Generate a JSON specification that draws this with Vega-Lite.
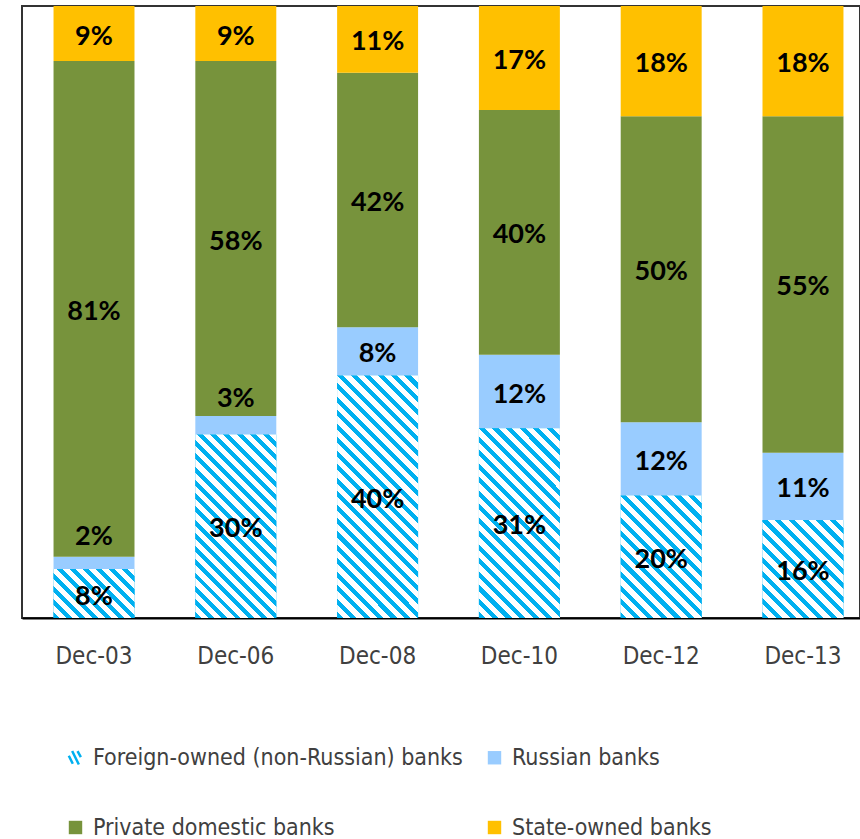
{
"$schema": "https://vega.github.io/schema/vega-lite/v6.json",
"width": 838, "height": 612,
"autosize": {"type": "none"},
"padding": {"left": 22, "top": 6, "right": 0, "bottom": 221},
"background": "white",
"config": {"view": {"stroke": "#333", "strokeWidth": 2}},
"data": {"values": [
{"period":"Dec-03","type":"Foreign-owned (non-Russian) banks","rank":1,"value":0.08},
{"period":"Dec-03","type":"Russian banks","rank":2,"value":0.02},
{"period":"Dec-03","type":"Private domestic banks","rank":3,"value":0.81},
{"period":"Dec-03","type":"State-owned banks","rank":4,"value":0.09},
{"period":"Dec-06","type":"Foreign-owned (non-Russian) banks","rank":1,"value":0.30},
{"period":"Dec-06","type":"Russian banks","rank":2,"value":0.03},
{"period":"Dec-06","type":"Private domestic banks","rank":3,"value":0.58},
{"period":"Dec-06","type":"State-owned banks","rank":4,"value":0.09},
{"period":"Dec-08","type":"Foreign-owned (non-Russian) banks","rank":1,"value":0.40},
{"period":"Dec-08","type":"Russian banks","rank":2,"value":0.08},
{"period":"Dec-08","type":"Private domestic banks","rank":3,"value":0.42},
{"period":"Dec-08","type":"State-owned banks","rank":4,"value":0.11},
{"period":"Dec-10","type":"Foreign-owned (non-Russian) banks","rank":1,"value":0.31},
{"period":"Dec-10","type":"Russian banks","rank":2,"value":0.12},
{"period":"Dec-10","type":"Private domestic banks","rank":3,"value":0.40},
{"period":"Dec-10","type":"State-owned banks","rank":4,"value":0.17},
{"period":"Dec-12","type":"Foreign-owned (non-Russian) banks","rank":1,"value":0.20},
{"period":"Dec-12","type":"Russian banks","rank":2,"value":0.12},
{"period":"Dec-12","type":"Private domestic banks","rank":3,"value":0.50},
{"period":"Dec-12","type":"State-owned banks","rank":4,"value":0.18},
{"period":"Dec-13","type":"Foreign-owned (non-Russian) banks","rank":1,"value":0.16},
{"period":"Dec-13","type":"Russian banks","rank":2,"value":0.11},
{"period":"Dec-13","type":"Private domestic banks","rank":3,"value":0.55},
{"period":"Dec-13","type":"State-owned banks","rank":4,"value":0.18}
]},
"transform": [
{"stack": "value", "groupby": ["period"], "sort": [{"field": "rank", "order": "ascending"}], "offset": "normalize", "as": ["y0", "y1"]},
{"calculate": "(datum.y0 + datum.y1) / 2", "as": "ymid"}
],
"encoding": {
"x": {"field": "period", "type": "nominal", "sort": null,
 "scale": {"paddingInner": 0.429, "paddingOuter": 0.1695, "align": 0.656},
 "axis": {"title": null, "ticks": false, "labelAngle": 0, "labelPadding": 26, "labelFont": "Liberation Sans Narrow, DejaVu Sans Condensed, Roboto Condensed, Roboto, sans-serif", "labelFontSize": 24, "labelColor": "#404040", "domainColor": "#000", "domainWidth": 2}}
},
"layer": [
{"mark": {"type": "bar"},
 "encoding": {
  "y": {"field": "y0", "type": "quantitative", "scale": {"domain": [0, 1], "nice": false}, "axis": null},
  "y2": {"field": "y1"},
  "color": {"field": "type", "type": "nominal",
   "scale": {"domain": ["Foreign-owned (non-Russian) banks", "Russian banks", "Private domestic banks", "State-owned banks"], "range": ["#00B0F0", "#99CCFF", "#77933C", "#FFC000"]},
   "legend": {"title": null, "orient": "none", "direction": "horizontal", "legendX": 42, "legendY": 740, "columns": 2, "columnPadding": 19, "rowPadding": 45, "symbolSize": 180, "symbolType": "square", "labelFont": "Liberation Sans Narrow, DejaVu Sans Condensed, Roboto Condensed, Roboto, sans-serif", "labelFontSize": 23, "labelColor": "#404040", "labelLimit": 0, "labelOffset": 6,
    "encode": {"symbols": {"update": {
     "shape": {"signal": "datum.value === 'Foreign-owned (non-Russian) banks' ? 'M-1,-0.3L-0.4,0.9M-0.5,-1L0.5,1M0.3,-1L0.8,-0.1' : 'square'"},
     "stroke": [{"test": "datum.value === 'Foreign-owned (non-Russian) banks'", "value": "#00B0F0"}, {"value": "transparent"}],
     "strokeWidth": {"value": 2.5},
     "fill": [{"test": "datum.value === 'Foreign-owned (non-Russian) banks'", "value": "transparent"}, {"scale": "color", "field": "value"}]
    }}}}
  }
 }},
{"transform": [{"filter": "datum.rank === 1 && datum.period === 'Dec-03'"}],
 "mark": {"type": "bar", "color": {"gradient": "linear", "x1": 0, "y1": 1, "x2": 1.175, "y2": 0.2892, "stops": [
{"offset":0,"color":"#00B0F0"},{"offset":0.045,"color":"#00B0F0"},{"offset":0.045,"color":"#FFFFFF"},{"offset":0.1,"color":"#FFFFFF"},
{"offset":0.1,"color":"#00B0F0"},{"offset":0.145,"color":"#00B0F0"},{"offset":0.145,"color":"#FFFFFF"},{"offset":0.2,"color":"#FFFFFF"},
{"offset":0.2,"color":"#00B0F0"},{"offset":0.245,"color":"#00B0F0"},{"offset":0.245,"color":"#FFFFFF"},{"offset":0.3,"color":"#FFFFFF"},
{"offset":0.3,"color":"#00B0F0"},{"offset":0.345,"color":"#00B0F0"},{"offset":0.345,"color":"#FFFFFF"},{"offset":0.4,"color":"#FFFFFF"},
{"offset":0.4,"color":"#00B0F0"},{"offset":0.445,"color":"#00B0F0"},{"offset":0.445,"color":"#FFFFFF"},{"offset":0.5,"color":"#FFFFFF"},
{"offset":0.5,"color":"#00B0F0"},{"offset":0.545,"color":"#00B0F0"},{"offset":0.545,"color":"#FFFFFF"},{"offset":0.6,"color":"#FFFFFF"},
{"offset":0.6,"color":"#00B0F0"},{"offset":0.645,"color":"#00B0F0"},{"offset":0.645,"color":"#FFFFFF"},{"offset":0.7,"color":"#FFFFFF"},
{"offset":0.7,"color":"#00B0F0"},{"offset":0.745,"color":"#00B0F0"},{"offset":0.745,"color":"#FFFFFF"},{"offset":0.8,"color":"#FFFFFF"},
{"offset":0.8,"color":"#00B0F0"},{"offset":0.845,"color":"#00B0F0"},{"offset":0.845,"color":"#FFFFFF"},{"offset":0.9,"color":"#FFFFFF"},
{"offset":0.9,"color":"#00B0F0"},{"offset":0.945,"color":"#00B0F0"},{"offset":0.945,"color":"#FFFFFF"},{"offset":1,"color":"#FFFFFF"}
 ]}},
 "encoding": {"y": {"field": "y0", "type": "quantitative", "axis": null}, "y2": {"field": "y1"}}},
{"transform": [{"filter": "datum.rank === 1 && datum.period === 'Dec-06'"}],
 "mark": {"type": "bar", "color": {"gradient": "linear", "x1": 0, "y1": 1, "x2": 0.5322, "y2": -0.2064, "stops": [
{"offset":0,"color":"#00B0F0"},{"offset":0.0225,"color":"#00B0F0"},{"offset":0.0225,"color":"#FFFFFF"},{"offset":0.05,"color":"#FFFFFF"},
{"offset":0.05,"color":"#00B0F0"},{"offset":0.0725,"color":"#00B0F0"},{"offset":0.0725,"color":"#FFFFFF"},{"offset":0.1,"color":"#FFFFFF"},
{"offset":0.1,"color":"#00B0F0"},{"offset":0.1225,"color":"#00B0F0"},{"offset":0.1225,"color":"#FFFFFF"},{"offset":0.15,"color":"#FFFFFF"},
{"offset":0.15,"color":"#00B0F0"},{"offset":0.1725,"color":"#00B0F0"},{"offset":0.1725,"color":"#FFFFFF"},{"offset":0.2,"color":"#FFFFFF"},
{"offset":0.2,"color":"#00B0F0"},{"offset":0.2225,"color":"#00B0F0"},{"offset":0.2225,"color":"#FFFFFF"},{"offset":0.25,"color":"#FFFFFF"},
{"offset":0.25,"color":"#00B0F0"},{"offset":0.2725,"color":"#00B0F0"},{"offset":0.2725,"color":"#FFFFFF"},{"offset":0.3,"color":"#FFFFFF"},
{"offset":0.3,"color":"#00B0F0"},{"offset":0.3225,"color":"#00B0F0"},{"offset":0.3225,"color":"#FFFFFF"},{"offset":0.35,"color":"#FFFFFF"},
{"offset":0.35,"color":"#00B0F0"},{"offset":0.3725,"color":"#00B0F0"},{"offset":0.3725,"color":"#FFFFFF"},{"offset":0.4,"color":"#FFFFFF"},
{"offset":0.4,"color":"#00B0F0"},{"offset":0.4225,"color":"#00B0F0"},{"offset":0.4225,"color":"#FFFFFF"},{"offset":0.45,"color":"#FFFFFF"},
{"offset":0.45,"color":"#00B0F0"},{"offset":0.4725,"color":"#00B0F0"},{"offset":0.4725,"color":"#FFFFFF"},{"offset":0.5,"color":"#FFFFFF"},
{"offset":0.5,"color":"#00B0F0"},{"offset":0.5225,"color":"#00B0F0"},{"offset":0.5225,"color":"#FFFFFF"},{"offset":0.55,"color":"#FFFFFF"},
{"offset":0.55,"color":"#00B0F0"},{"offset":0.5725,"color":"#00B0F0"},{"offset":0.5725,"color":"#FFFFFF"},{"offset":0.6,"color":"#FFFFFF"},
{"offset":0.6,"color":"#00B0F0"},{"offset":0.6225,"color":"#00B0F0"},{"offset":0.6225,"color":"#FFFFFF"},{"offset":0.65,"color":"#FFFFFF"},
{"offset":0.65,"color":"#00B0F0"},{"offset":0.6725,"color":"#00B0F0"},{"offset":0.6725,"color":"#FFFFFF"},{"offset":0.7,"color":"#FFFFFF"},
{"offset":0.7,"color":"#00B0F0"},{"offset":0.7225,"color":"#00B0F0"},{"offset":0.7225,"color":"#FFFFFF"},{"offset":0.75,"color":"#FFFFFF"},
{"offset":0.75,"color":"#00B0F0"},{"offset":0.7725,"color":"#00B0F0"},{"offset":0.7725,"color":"#FFFFFF"},{"offset":0.8,"color":"#FFFFFF"},
{"offset":0.8,"color":"#00B0F0"},{"offset":0.8225,"color":"#00B0F0"},{"offset":0.8225,"color":"#FFFFFF"},{"offset":0.85,"color":"#FFFFFF"},
{"offset":0.85,"color":"#00B0F0"},{"offset":0.8725,"color":"#00B0F0"},{"offset":0.8725,"color":"#FFFFFF"},{"offset":0.9,"color":"#FFFFFF"},
{"offset":0.9,"color":"#00B0F0"},{"offset":0.9225,"color":"#00B0F0"},{"offset":0.9225,"color":"#FFFFFF"},{"offset":0.95,"color":"#FFFFFF"},
{"offset":0.95,"color":"#00B0F0"},{"offset":0.9725,"color":"#00B0F0"},{"offset":0.9725,"color":"#FFFFFF"},{"offset":1,"color":"#FFFFFF"}
 ]}},
 "encoding": {"y": {"field": "y0", "type": "quantitative", "axis": null}, "y2": {"field": "y1"}}},
{"transform": [{"filter": "datum.rank === 1 && datum.period === 'Dec-08'"}],
 "mark": {"type": "bar", "color": {"gradient": "linear", "x1": 0, "y1": 1, "x2": 0.401, "y2": -0.2001, "stops": [
{"offset":0,"color":"#00B0F0"},{"offset":0.01875,"color":"#00B0F0"},{"offset":0.01875,"color":"#FFFFFF"},{"offset":0.041667,"color":"#FFFFFF"},
{"offset":0.041667,"color":"#00B0F0"},{"offset":0.060417,"color":"#00B0F0"},{"offset":0.060417,"color":"#FFFFFF"},{"offset":0.083333,"color":"#FFFFFF"},
{"offset":0.083333,"color":"#00B0F0"},{"offset":0.102083,"color":"#00B0F0"},{"offset":0.102083,"color":"#FFFFFF"},{"offset":0.125,"color":"#FFFFFF"},
{"offset":0.125,"color":"#00B0F0"},{"offset":0.14375,"color":"#00B0F0"},{"offset":0.14375,"color":"#FFFFFF"},{"offset":0.166667,"color":"#FFFFFF"},
{"offset":0.166667,"color":"#00B0F0"},{"offset":0.185417,"color":"#00B0F0"},{"offset":0.185417,"color":"#FFFFFF"},{"offset":0.208333,"color":"#FFFFFF"},
{"offset":0.208333,"color":"#00B0F0"},{"offset":0.227083,"color":"#00B0F0"},{"offset":0.227083,"color":"#FFFFFF"},{"offset":0.25,"color":"#FFFFFF"},
{"offset":0.25,"color":"#00B0F0"},{"offset":0.26875,"color":"#00B0F0"},{"offset":0.26875,"color":"#FFFFFF"},{"offset":0.291667,"color":"#FFFFFF"},
{"offset":0.291667,"color":"#00B0F0"},{"offset":0.310417,"color":"#00B0F0"},{"offset":0.310417,"color":"#FFFFFF"},{"offset":0.333333,"color":"#FFFFFF"},
{"offset":0.333333,"color":"#00B0F0"},{"offset":0.352083,"color":"#00B0F0"},{"offset":0.352083,"color":"#FFFFFF"},{"offset":0.375,"color":"#FFFFFF"},
{"offset":0.375,"color":"#00B0F0"},{"offset":0.39375,"color":"#00B0F0"},{"offset":0.39375,"color":"#FFFFFF"},{"offset":0.416667,"color":"#FFFFFF"},
{"offset":0.416667,"color":"#00B0F0"},{"offset":0.435417,"color":"#00B0F0"},{"offset":0.435417,"color":"#FFFFFF"},{"offset":0.458333,"color":"#FFFFFF"},
{"offset":0.458333,"color":"#00B0F0"},{"offset":0.477083,"color":"#00B0F0"},{"offset":0.477083,"color":"#FFFFFF"},{"offset":0.5,"color":"#FFFFFF"},
{"offset":0.5,"color":"#00B0F0"},{"offset":0.51875,"color":"#00B0F0"},{"offset":0.51875,"color":"#FFFFFF"},{"offset":0.541667,"color":"#FFFFFF"},
{"offset":0.541667,"color":"#00B0F0"},{"offset":0.560417,"color":"#00B0F0"},{"offset":0.560417,"color":"#FFFFFF"},{"offset":0.583333,"color":"#FFFFFF"},
{"offset":0.583333,"color":"#00B0F0"},{"offset":0.602083,"color":"#00B0F0"},{"offset":0.602083,"color":"#FFFFFF"},{"offset":0.625,"color":"#FFFFFF"},
{"offset":0.625,"color":"#00B0F0"},{"offset":0.64375,"color":"#00B0F0"},{"offset":0.64375,"color":"#FFFFFF"},{"offset":0.666667,"color":"#FFFFFF"},
{"offset":0.666667,"color":"#00B0F0"},{"offset":0.685417,"color":"#00B0F0"},{"offset":0.685417,"color":"#FFFFFF"},{"offset":0.708333,"color":"#FFFFFF"},
{"offset":0.708333,"color":"#00B0F0"},{"offset":0.727083,"color":"#00B0F0"},{"offset":0.727083,"color":"#FFFFFF"},{"offset":0.75,"color":"#FFFFFF"},
{"offset":0.75,"color":"#00B0F0"},{"offset":0.76875,"color":"#00B0F0"},{"offset":0.76875,"color":"#FFFFFF"},{"offset":0.791667,"color":"#FFFFFF"},
{"offset":0.791667,"color":"#00B0F0"},{"offset":0.810417,"color":"#00B0F0"},{"offset":0.810417,"color":"#FFFFFF"},{"offset":0.833333,"color":"#FFFFFF"},
{"offset":0.833333,"color":"#00B0F0"},{"offset":0.852083,"color":"#00B0F0"},{"offset":0.852083,"color":"#FFFFFF"},{"offset":0.875,"color":"#FFFFFF"},
{"offset":0.875,"color":"#00B0F0"},{"offset":0.89375,"color":"#00B0F0"},{"offset":0.89375,"color":"#FFFFFF"},{"offset":0.916667,"color":"#FFFFFF"},
{"offset":0.916667,"color":"#00B0F0"},{"offset":0.935417,"color":"#00B0F0"},{"offset":0.935417,"color":"#FFFFFF"},{"offset":0.958333,"color":"#FFFFFF"},
{"offset":0.958333,"color":"#00B0F0"},{"offset":0.977083,"color":"#00B0F0"},{"offset":0.977083,"color":"#FFFFFF"},{"offset":1,"color":"#FFFFFF"}
 ]}},
 "encoding": {"y": {"field": "y0", "type": "quantitative", "axis": null}, "y2": {"field": "y1"}}},
{"transform": [{"filter": "datum.rank === 1 && datum.period === 'Dec-10'"}],
 "mark": {"type": "bar", "color": {"gradient": "linear", "x1": 0, "y1": 1, "x2": 0.5154, "y2": -0.2069, "stops": [
{"offset":0,"color":"#00B0F0"},{"offset":0.0225,"color":"#00B0F0"},{"offset":0.0225,"color":"#FFFFFF"},{"offset":0.05,"color":"#FFFFFF"},
{"offset":0.05,"color":"#00B0F0"},{"offset":0.0725,"color":"#00B0F0"},{"offset":0.0725,"color":"#FFFFFF"},{"offset":0.1,"color":"#FFFFFF"},
{"offset":0.1,"color":"#00B0F0"},{"offset":0.1225,"color":"#00B0F0"},{"offset":0.1225,"color":"#FFFFFF"},{"offset":0.15,"color":"#FFFFFF"},
{"offset":0.15,"color":"#00B0F0"},{"offset":0.1725,"color":"#00B0F0"},{"offset":0.1725,"color":"#FFFFFF"},{"offset":0.2,"color":"#FFFFFF"},
{"offset":0.2,"color":"#00B0F0"},{"offset":0.2225,"color":"#00B0F0"},{"offset":0.2225,"color":"#FFFFFF"},{"offset":0.25,"color":"#FFFFFF"},
{"offset":0.25,"color":"#00B0F0"},{"offset":0.2725,"color":"#00B0F0"},{"offset":0.2725,"color":"#FFFFFF"},{"offset":0.3,"color":"#FFFFFF"},
{"offset":0.3,"color":"#00B0F0"},{"offset":0.3225,"color":"#00B0F0"},{"offset":0.3225,"color":"#FFFFFF"},{"offset":0.35,"color":"#FFFFFF"},
{"offset":0.35,"color":"#00B0F0"},{"offset":0.3725,"color":"#00B0F0"},{"offset":0.3725,"color":"#FFFFFF"},{"offset":0.4,"color":"#FFFFFF"},
{"offset":0.4,"color":"#00B0F0"},{"offset":0.4225,"color":"#00B0F0"},{"offset":0.4225,"color":"#FFFFFF"},{"offset":0.45,"color":"#FFFFFF"},
{"offset":0.45,"color":"#00B0F0"},{"offset":0.4725,"color":"#00B0F0"},{"offset":0.4725,"color":"#FFFFFF"},{"offset":0.5,"color":"#FFFFFF"},
{"offset":0.5,"color":"#00B0F0"},{"offset":0.5225,"color":"#00B0F0"},{"offset":0.5225,"color":"#FFFFFF"},{"offset":0.55,"color":"#FFFFFF"},
{"offset":0.55,"color":"#00B0F0"},{"offset":0.5725,"color":"#00B0F0"},{"offset":0.5725,"color":"#FFFFFF"},{"offset":0.6,"color":"#FFFFFF"},
{"offset":0.6,"color":"#00B0F0"},{"offset":0.6225,"color":"#00B0F0"},{"offset":0.6225,"color":"#FFFFFF"},{"offset":0.65,"color":"#FFFFFF"},
{"offset":0.65,"color":"#00B0F0"},{"offset":0.6725,"color":"#00B0F0"},{"offset":0.6725,"color":"#FFFFFF"},{"offset":0.7,"color":"#FFFFFF"},
{"offset":0.7,"color":"#00B0F0"},{"offset":0.7225,"color":"#00B0F0"},{"offset":0.7225,"color":"#FFFFFF"},{"offset":0.75,"color":"#FFFFFF"},
{"offset":0.75,"color":"#00B0F0"},{"offset":0.7725,"color":"#00B0F0"},{"offset":0.7725,"color":"#FFFFFF"},{"offset":0.8,"color":"#FFFFFF"},
{"offset":0.8,"color":"#00B0F0"},{"offset":0.8225,"color":"#00B0F0"},{"offset":0.8225,"color":"#FFFFFF"},{"offset":0.85,"color":"#FFFFFF"},
{"offset":0.85,"color":"#00B0F0"},{"offset":0.8725,"color":"#00B0F0"},{"offset":0.8725,"color":"#FFFFFF"},{"offset":0.9,"color":"#FFFFFF"},
{"offset":0.9,"color":"#00B0F0"},{"offset":0.9225,"color":"#00B0F0"},{"offset":0.9225,"color":"#FFFFFF"},{"offset":0.95,"color":"#FFFFFF"},
{"offset":0.95,"color":"#00B0F0"},{"offset":0.9725,"color":"#00B0F0"},{"offset":0.9725,"color":"#FFFFFF"},{"offset":1,"color":"#FFFFFF"}
 ]}},
 "encoding": {"y": {"field": "y0", "type": "quantitative", "axis": null}, "y2": {"field": "y1"}}},
{"transform": [{"filter": "datum.rank === 1 && datum.period === 'Dec-12'"}],
 "mark": {"type": "bar", "color": {"gradient": "linear", "x1": 0, "y1": 1, "x2": 0.7648, "y2": -0.1557, "stops": [
{"offset":0,"color":"#00B0F0"},{"offset":0.03,"color":"#00B0F0"},{"offset":0.03,"color":"#FFFFFF"},{"offset":0.066667,"color":"#FFFFFF"},
{"offset":0.066667,"color":"#00B0F0"},{"offset":0.096667,"color":"#00B0F0"},{"offset":0.096667,"color":"#FFFFFF"},{"offset":0.133333,"color":"#FFFFFF"},
{"offset":0.133333,"color":"#00B0F0"},{"offset":0.163333,"color":"#00B0F0"},{"offset":0.163333,"color":"#FFFFFF"},{"offset":0.2,"color":"#FFFFFF"},
{"offset":0.2,"color":"#00B0F0"},{"offset":0.23,"color":"#00B0F0"},{"offset":0.23,"color":"#FFFFFF"},{"offset":0.266667,"color":"#FFFFFF"},
{"offset":0.266667,"color":"#00B0F0"},{"offset":0.296667,"color":"#00B0F0"},{"offset":0.296667,"color":"#FFFFFF"},{"offset":0.333333,"color":"#FFFFFF"},
{"offset":0.333333,"color":"#00B0F0"},{"offset":0.363333,"color":"#00B0F0"},{"offset":0.363333,"color":"#FFFFFF"},{"offset":0.4,"color":"#FFFFFF"},
{"offset":0.4,"color":"#00B0F0"},{"offset":0.43,"color":"#00B0F0"},{"offset":0.43,"color":"#FFFFFF"},{"offset":0.466667,"color":"#FFFFFF"},
{"offset":0.466667,"color":"#00B0F0"},{"offset":0.496667,"color":"#00B0F0"},{"offset":0.496667,"color":"#FFFFFF"},{"offset":0.533333,"color":"#FFFFFF"},
{"offset":0.533333,"color":"#00B0F0"},{"offset":0.563333,"color":"#00B0F0"},{"offset":0.563333,"color":"#FFFFFF"},{"offset":0.6,"color":"#FFFFFF"},
{"offset":0.6,"color":"#00B0F0"},{"offset":0.63,"color":"#00B0F0"},{"offset":0.63,"color":"#FFFFFF"},{"offset":0.666667,"color":"#FFFFFF"},
{"offset":0.666667,"color":"#00B0F0"},{"offset":0.696667,"color":"#00B0F0"},{"offset":0.696667,"color":"#FFFFFF"},{"offset":0.733333,"color":"#FFFFFF"},
{"offset":0.733333,"color":"#00B0F0"},{"offset":0.763333,"color":"#00B0F0"},{"offset":0.763333,"color":"#FFFFFF"},{"offset":0.8,"color":"#FFFFFF"},
{"offset":0.8,"color":"#00B0F0"},{"offset":0.83,"color":"#00B0F0"},{"offset":0.83,"color":"#FFFFFF"},{"offset":0.866667,"color":"#FFFFFF"},
{"offset":0.866667,"color":"#00B0F0"},{"offset":0.896667,"color":"#00B0F0"},{"offset":0.896667,"color":"#FFFFFF"},{"offset":0.933333,"color":"#FFFFFF"},
{"offset":0.933333,"color":"#00B0F0"},{"offset":0.963333,"color":"#00B0F0"},{"offset":0.963333,"color":"#FFFFFF"},{"offset":1,"color":"#FFFFFF"}
 ]}},
 "encoding": {"y": {"field": "y0", "type": "quantitative", "axis": null}, "y2": {"field": "y1"}}},
{"transform": [{"filter": "datum.rank === 1 && datum.period === 'Dec-13'"}],
 "mark": {"type": "bar", "color": {"gradient": "linear", "x1": 0, "y1": 1, "x2": 0.8975, "y2": -0.0847, "stops": [
{"offset":0,"color":"#00B0F0"},{"offset":0.034615,"color":"#00B0F0"},{"offset":0.034615,"color":"#FFFFFF"},{"offset":0.076923,"color":"#FFFFFF"},
{"offset":0.076923,"color":"#00B0F0"},{"offset":0.111538,"color":"#00B0F0"},{"offset":0.111538,"color":"#FFFFFF"},{"offset":0.153846,"color":"#FFFFFF"},
{"offset":0.153846,"color":"#00B0F0"},{"offset":0.188462,"color":"#00B0F0"},{"offset":0.188462,"color":"#FFFFFF"},{"offset":0.230769,"color":"#FFFFFF"},
{"offset":0.230769,"color":"#00B0F0"},{"offset":0.265385,"color":"#00B0F0"},{"offset":0.265385,"color":"#FFFFFF"},{"offset":0.307692,"color":"#FFFFFF"},
{"offset":0.307692,"color":"#00B0F0"},{"offset":0.342308,"color":"#00B0F0"},{"offset":0.342308,"color":"#FFFFFF"},{"offset":0.384615,"color":"#FFFFFF"},
{"offset":0.384615,"color":"#00B0F0"},{"offset":0.419231,"color":"#00B0F0"},{"offset":0.419231,"color":"#FFFFFF"},{"offset":0.461538,"color":"#FFFFFF"},
{"offset":0.461538,"color":"#00B0F0"},{"offset":0.496154,"color":"#00B0F0"},{"offset":0.496154,"color":"#FFFFFF"},{"offset":0.538462,"color":"#FFFFFF"},
{"offset":0.538462,"color":"#00B0F0"},{"offset":0.573077,"color":"#00B0F0"},{"offset":0.573077,"color":"#FFFFFF"},{"offset":0.615385,"color":"#FFFFFF"},
{"offset":0.615385,"color":"#00B0F0"},{"offset":0.65,"color":"#00B0F0"},{"offset":0.65,"color":"#FFFFFF"},{"offset":0.692308,"color":"#FFFFFF"},
{"offset":0.692308,"color":"#00B0F0"},{"offset":0.726923,"color":"#00B0F0"},{"offset":0.726923,"color":"#FFFFFF"},{"offset":0.769231,"color":"#FFFFFF"},
{"offset":0.769231,"color":"#00B0F0"},{"offset":0.803846,"color":"#00B0F0"},{"offset":0.803846,"color":"#FFFFFF"},{"offset":0.846154,"color":"#FFFFFF"},
{"offset":0.846154,"color":"#00B0F0"},{"offset":0.880769,"color":"#00B0F0"},{"offset":0.880769,"color":"#FFFFFF"},{"offset":0.923077,"color":"#FFFFFF"},
{"offset":0.923077,"color":"#00B0F0"},{"offset":0.957692,"color":"#00B0F0"},{"offset":0.957692,"color":"#FFFFFF"},{"offset":1,"color":"#FFFFFF"}
 ]}},
 "encoding": {"y": {"field": "y0", "type": "quantitative", "axis": null}, "y2": {"field": "y1"}}},
{"transform": [{"filter": "datum.value >= 0.05"}],
 "mark": {"type": "text", "font": "Lato", "fontWeight": "bold", "fontSize": 27, "color": "#000", "baseline": "middle", "align": "center", "dy": 3},
 "encoding": {"y": {"field": "ymid", "type": "quantitative", "axis": null}, "text": {"field": "value", "type": "quantitative", "format": ".0%"}}},
{"transform": [{"filter": "datum.value < 0.05"}],
 "mark": {"type": "text", "font": "Lato", "fontWeight": "bold", "fontSize": 27, "color": "#000", "baseline": "middle", "align": "center", "dy": -26},
 "encoding": {"y": {"field": "ymid", "type": "quantitative", "axis": null}, "text": {"field": "value", "type": "quantitative", "format": ".0%"}}}
]
}
